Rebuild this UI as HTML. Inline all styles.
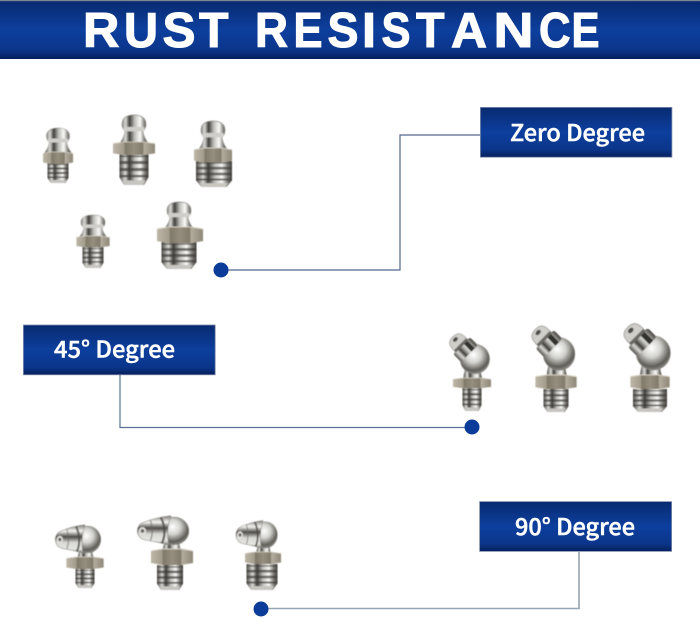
<!DOCTYPE html>
<html lang="en"><head><meta charset="utf-8"><title>Rust Resistance</title>
<style>html,body{margin:0;padding:0;background:#fff}svg{display:block}</style></head>
<body>
<svg xmlns="http://www.w3.org/2000/svg" width="700" height="618" viewBox="0 0 700 618">
<defs>
<linearGradient id="bar" x1="0" y1="0" x2="0" y2="1">
<stop offset="0" stop-color="#082a70"/><stop offset=".5" stop-color="#0d3f9e"/><stop offset=".85" stop-color="#0b358a"/><stop offset="1" stop-color="#061f5c"/>
</linearGradient>
<linearGradient id="steel" x1="0" y1="0" x2="1" y2="0">
<stop offset="0" stop-color="#4f4c47"/><stop offset=".2" stop-color="#dcdcd8"/><stop offset=".34" stop-color="#3f3d39"/><stop offset=".52" stop-color="#bdbdb8"/><stop offset=".72" stop-color="#fafaf8"/><stop offset=".88" stop-color="#7a7872"/><stop offset="1" stop-color="#45433f"/>
</linearGradient>
<linearGradient id="steelv" x1="0" y1="0" x2="0" y2="1">
<stop offset="0" stop-color="#7b7973"/><stop offset=".22" stop-color="#f5f5f2"/><stop offset=".42" stop-color="#4c4a45"/><stop offset=".62" stop-color="#d9d9d5"/><stop offset=".85" stop-color="#e6e6e2"/><stop offset="1" stop-color="#6a6862"/>
</linearGradient>
<linearGradient id="hexg" x1="0" y1="0" x2="1" y2="0">
<stop offset="0" stop-color="#bdb6a7"/><stop offset=".26" stop-color="#a39c8b"/><stop offset=".29" stop-color="#7f7969"/><stop offset=".5" stop-color="#958e7d"/><stop offset=".71" stop-color="#827b6b"/><stop offset=".74" stop-color="#b3ad9e"/><stop offset="1" stop-color="#8e8777"/>
</linearGradient>
<radialGradient id="ball" cx=".45" cy=".36" r=".7">
<stop offset="0" stop-color="#fff"/><stop offset=".38" stop-color="#d2d2ce"/><stop offset=".76" stop-color="#5e5c56"/><stop offset="1" stop-color="#a09f99"/>
</radialGradient>
<pattern id="st" width="1" height="4.500" patternUnits="userSpaceOnUse"><rect width="1" height="2" fill="#3d3b38" opacity=".7"/></pattern>
<filter id="soft" x="-10%" y="-10%" width="120%" height="120%"><feGaussianBlur stdDeviation=".5"/></filter>

<!-- straight head -->
<g id="h">
<path d="M-12 8C-12 2-6 0 0 0S12 2 12 8C12 11 11 13 9 14C9 17 11 21 14 25H-14C-11 21-9 17-9 14C-11 13-12 11-12 8Z" fill="url(#steel)" stroke="#8a8882" stroke-width=".6"/>
<rect x="-11" y="10.500" width="22" height="4" rx="2" fill="#cfcec9"/>
</g>
<!-- hex -->
<g id="x">
<path d="M-20 1.500L-9 0H9L20 1.500V10.500L9 12H-9L-20 10.500Z" fill="url(#hexg)"/>
<path d="M-20 1.500L-9 0H9L20 1.500" stroke="#d2cdc0" stroke-width=".8" fill="none"/>
</g>
<!-- thread -->
<g id="t">
<path d="M-10 0H10V15L7 20H-7L-10 15Z" fill="url(#steel)"/>
<rect x="-10" y="1" width="20" height="14" fill="url(#st)"/>
<path d="M-8 17H8L6 20H-6Z" fill="#c6c5c0"/>
</g>
<!-- 45 degree top -->
<g id="a">
<path d="M-9 1C-9-5-7-8-8-10H10C9-8 9-5 11 1Z" fill="url(#steel)"/>
<circle cx="3" cy="-20" r="15.500" fill="url(#ball)" stroke="#8a8882" stroke-width=".6"/>
<g transform="translate(3 -20) rotate(-45)">
<rect x="-12.500" y="-20" width="25" height="12" rx="2.500" fill="url(#steel)"/>
<rect x="3" y="-20" width="5" height="12" fill="#33312e"/>
<path d="M-9-20C-10-31-6-33 0-33C6-33 10-31 9-20Z" fill="#cfcec9" stroke="#8a8882" stroke-width=".6"/>
<path d="M-9-22H9V-19H-9Z" fill="#6a6862"/>
<ellipse cx="0" cy="-29" rx="3" ry="2" fill="#4f4d49"/>
</g>
</g>
<!-- 90 degree top -->
<g id="r">
<path d="M-8 1C-8-3-6-6-7-9H9C8-6 8-3 10 1Z" fill="url(#steel)"/>
<circle cx="3" cy="-19" r="14.500" fill="url(#ball)" stroke="#8a8882" stroke-width=".6"/>
<path d="M0-35C-10-34-20-31-27-28C-35-25-35-13-27-10C-20-8-10-7-2-4C-4-12-4-24 0-35Z" fill="url(#steelv)" stroke="#8a8882" stroke-width=".6"/>
<path d="M-10-33C-6-26-5-14-9-6" stroke="#4a4844" stroke-width="2.200" fill="none" opacity=".8"/>
<path d="M-20-30C-18-23-18-15-20-9" stroke="#6a6864" stroke-width="1.400" fill="none" opacity=".6"/>
<ellipse cx="-28" cy="-19" rx="3.500" ry="4" fill="#e3e2de"/>
<ellipse cx="-28" cy="-19" rx="1.800" ry="2" fill="#6b6963"/>
</g>
</defs>

<rect width="700" height="618" fill="#fff"/>
<rect x="0" y="1" width="700" height="58" fill="url(#bar)"/>
<rect x="0" y="0" width="700" height="1.200" fill="#7d8794"/>
<text y="47" font-family="'Liberation Sans',sans-serif" font-weight="700" font-size="49" fill="#fff" stroke="#fff" stroke-width="1.100" lengthAdjust="spacingAndGlyphs"><tspan x="83" y="47" textLength="36.400" lengthAdjust="spacingAndGlyphs">R</tspan><tspan x="124" y="47" textLength="34" lengthAdjust="spacingAndGlyphs">U</tspan><tspan x="162.500" y="47" textLength="33" lengthAdjust="spacingAndGlyphs">S</tspan><tspan x="199" y="47" textLength="29.500" lengthAdjust="spacingAndGlyphs">T</tspan><tspan x="240" y="47"> </tspan><tspan x="255" y="47" textLength="33" lengthAdjust="spacingAndGlyphs">R</tspan><tspan x="293.500" y="47" textLength="29" lengthAdjust="spacingAndGlyphs">E</tspan><tspan x="327.500" y="47" textLength="31" lengthAdjust="spacingAndGlyphs">S</tspan><tspan x="362" y="47" textLength="14" lengthAdjust="spacingAndGlyphs">I</tspan><tspan x="381.500" y="47" textLength="29" lengthAdjust="spacingAndGlyphs">S</tspan><tspan x="416" y="47" textLength="28.500" lengthAdjust="spacingAndGlyphs">T</tspan><tspan x="451" y="47" textLength="36" lengthAdjust="spacingAndGlyphs">A</tspan><tspan x="493.500" y="47" textLength="40" lengthAdjust="spacingAndGlyphs">N</tspan><tspan x="539" y="47" textLength="31.500" lengthAdjust="spacingAndGlyphs">C</tspan><tspan x="571.500" y="47" textLength="28" lengthAdjust="spacingAndGlyphs">E</tspan></text>

<!-- connectors -->
<g fill="none" stroke-width="1.200">
<path d="M221 270H400V135H480" stroke="#54688f"/>
<path d="M120 375V427.500H472" stroke="#5c6f98"/>
<path d="M261 608.500H579V552" stroke="#98a3b3" stroke-width="1.600"/>
</g>
<g fill="#0c3c99">
<circle cx="221" cy="270" r="7.500"/>
<circle cx="472" cy="427" r="7.500"/>
<circle cx="261" cy="609" r="7.500"/>
</g>

<!-- label boxes -->
<g stroke="#7e8cab" stroke-width=".8" fill="url(#bar)">
<rect x="480.400" y="107.400" width="191.500" height="49.800"/>
<rect x="23.400" y="325" width="191.800" height="49.800"/>
<rect x="479.600" y="501.600" width="192" height="49.800"/>
</g>
<g font-family="'Noto Sans CJK SC','Liberation Sans',sans-serif" font-weight="500" font-size="23" fill="#fff" stroke="#fff" stroke-width=".45">
<text x="510" y="141" textLength="135" lengthAdjust="spacingAndGlyphs">Zero Degree</text>
<text x="54" y="357.500" textLength="121" lengthAdjust="spacingAndGlyphs">45° Degree</text>
<text x="515" y="535" textLength="120" lengthAdjust="spacingAndGlyphs">90° Degree</text>
</g>

<!-- straight fittings -->
<g filter="url(#soft)">
<g><use href="#t" transform="translate(58 163) scale(1.050 1)"/><use href="#h" transform="translate(58 128) scale(.96 1)"/><use href="#x" transform="translate(58 152) scale(.75 1)"/></g>
<g><use href="#t" transform="translate(134 154) scale(1.450 1.550)"/><use href="#h" transform="translate(134 115) scale(1 1.130)"/><use href="#x" transform="translate(134 142) scale(1.050 1.080)"/></g>
<g><use href="#t" transform="translate(214 161) scale(1.800 1.300)"/><use href="#h" transform="translate(213 121) scale(1 1.130)"/><use href="#x" transform="translate(213 148) scale(.95 1.200)"/></g>
<g><use href="#t" transform="translate(93 247) scale(1.050 1.050)"/><use href="#h" transform="translate(93 215) scale(1 .9)"/><use href="#x" transform="translate(93 236) scale(.83 .95)"/></g>
<g><use href="#t" transform="translate(179 242) scale(1.750 1.350)"/><use href="#h" transform="translate(179 202) scale(1 1.050)"/><use href="#x" transform="translate(180 227) scale(1.150 1.350)"/></g>
</g>

<!-- 45 degree fittings -->
<g filter="url(#soft)">
<g><use href="#t" transform="translate(472 388) scale(.95 1.150)"/><use href="#a" transform="translate(472 378) scale(.95)"/><use href="#x" transform="translate(472 378) scale(.95 .85)"/></g>
<g><use href="#t" transform="translate(556 389) scale(1.250 1.150)"/><use href="#a" transform="translate(556 375) scale(1.020 1.050)"/><use href="#x" transform="translate(556 375) scale(1.030 1.170)"/></g>
<g><use href="#t" transform="translate(650 389) scale(1.700 1.150)"/><use href="#a" transform="translate(650 375) scale(1.100 1.100)"/><use href="#x" transform="translate(650 375) scale(.98 1.170)"/></g>
</g>

<!-- 90 degree fittings -->
<g filter="url(#soft)">
<g><use href="#t" transform="translate(85 569) scale(.95 .95)"/><use href="#r" transform="translate(85 557) scale(.9 .92)"/><use href="#x" transform="translate(85 557) scale(.93 1)"/></g>
<g><use href="#t" transform="translate(170 565) scale(1.300 1.250)"/><use href="#r" transform="translate(171 549) scale(1.020 .95)"/><use href="#x" transform="translate(172 549) scale(1.050 1.330)"/></g>
<g><use href="#t" transform="translate(262 564) scale(1.550 1.300)"/><use href="#r" transform="translate(263 552) scale(.82 .9)"/><use href="#x" transform="translate(263 552) scale(.9 1)"/></g>
</g>
</svg>
</body></html>
